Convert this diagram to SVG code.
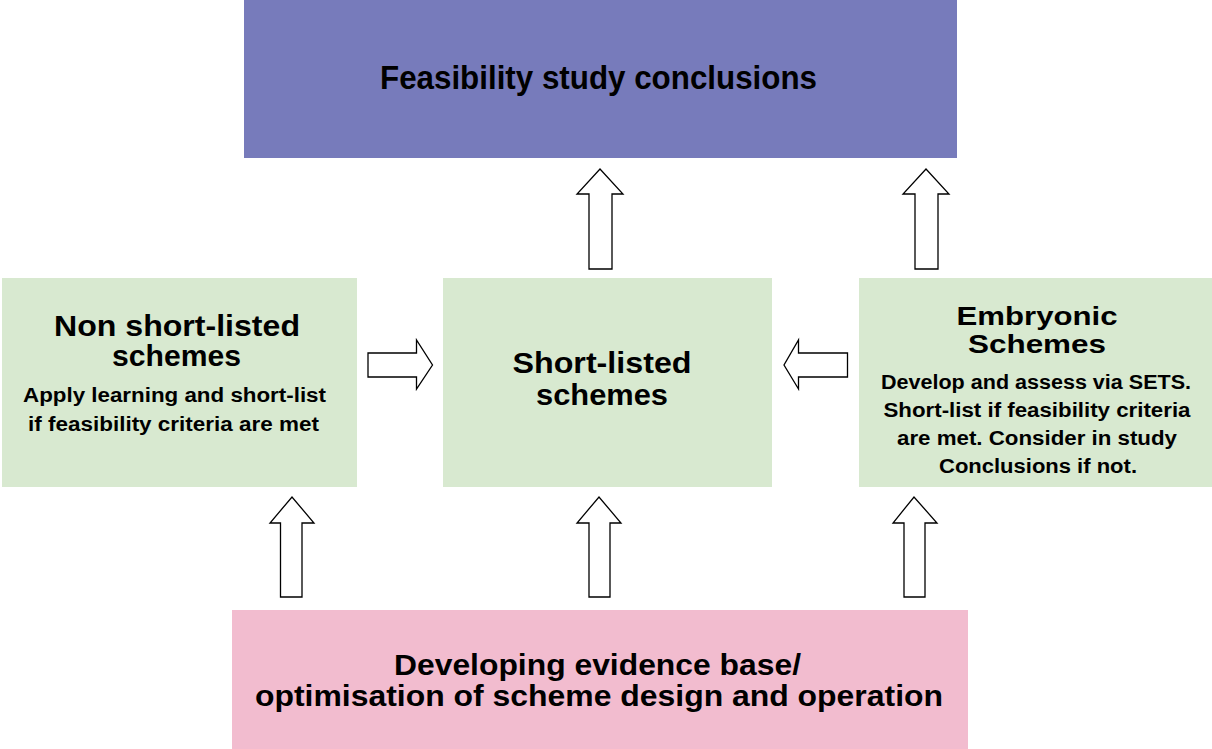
<svg xmlns="http://www.w3.org/2000/svg" width="1212" height="749" viewBox="0 0 1212 749">
<style>
.t{font-family:"Liberation Sans",Arial,sans-serif;font-weight:bold;fill:#000;text-anchor:middle}
.h{font-size:30px}
.s{font-size:19.5px}
.arr{fill:#fff;stroke:#000;stroke-width:1.3;stroke-linejoin:miter}
</style>
<rect width="1212" height="749" fill="#fff"/>
<g id="conclusions">
<rect x="244" y="0" width="713" height="158" fill="#777BBB"/>
<text class="t" x="598.5" y="89" font-size="33" textLength="437" lengthAdjust="spacingAndGlyphs">Feasibility study conclusions</text>
</g>
<g id="non-short-listed">
<rect x="2" y="278" width="355" height="209" fill="#D8E9D0"/>
<text class="t h" x="177" y="336" textLength="246" lengthAdjust="spacingAndGlyphs">Non short-listed</text>
<text class="t h" x="176.5" y="366" textLength="129" lengthAdjust="spacingAndGlyphs">schemes</text>
<text class="t s" x="174.5" y="402" textLength="303" lengthAdjust="spacingAndGlyphs">Apply learning and short-list</text>
<text class="t s" x="173.5" y="431" textLength="291" lengthAdjust="spacingAndGlyphs">if feasibility criteria are met</text>
</g>
<g id="short-listed">
<rect x="443" y="278" width="329" height="209" fill="#D8E9D0"/>
<text class="t h" x="602" y="373" textLength="179" lengthAdjust="spacingAndGlyphs">Short-listed</text>
<text class="t h" x="602" y="405" textLength="132" lengthAdjust="spacingAndGlyphs">schemes</text>
</g>
<g id="embryonic">
<rect x="859" y="278" width="353" height="209" fill="#D8E9D0"/>
<text class="t" x="1037" y="324.5" font-size="26" textLength="161" lengthAdjust="spacingAndGlyphs">Embryonic</text>
<text class="t" x="1037" y="353" font-size="26" textLength="138" lengthAdjust="spacingAndGlyphs">Schemes</text>
<text class="t s" x="1036" y="389" textLength="310" lengthAdjust="spacingAndGlyphs">Develop and assess via SETS.</text>
<text class="t s" x="1037" y="417" textLength="307" lengthAdjust="spacingAndGlyphs">Short-list if feasibility criteria</text>
<text class="t s" x="1037" y="445" textLength="280" lengthAdjust="spacingAndGlyphs">are met. Consider in study</text>
<text class="t s" x="1038" y="473" textLength="198" lengthAdjust="spacingAndGlyphs">Conclusions if not.</text>
</g>
<g id="evidence">
<rect x="232" y="610" width="736" height="139" fill="#F2BCCF"/>
<text class="t" x="597.5" y="675" font-size="29" textLength="407" lengthAdjust="spacingAndGlyphs">Developing evidence base/</text>
<text class="t" x="599" y="706" font-size="29" textLength="688" lengthAdjust="spacingAndGlyphs">optimisation of scheme design and operation</text>
</g>
<g id="connectors">
<polygon class="arr" points="589,269 612,269 612,194 623,194 600,169 577,194 589,194"/>
<polygon class="arr" points="915,269 938,269 938,194 949,194 926,169 903,194 915,194"/>
<polygon class="arr" points="368,353 416.5,353 416.5,340 432.5,365 416.5,389 416.5,377 368,377"/>
<polygon class="arr" points="847.5,353 798.5,353 798.5,340 784,365 798.5,389 798.5,377 847.5,377"/>
<polygon class="arr" points="280.5,597 302,597 302,523 314,523 292,497 270,523 280.5,523"/>
<polygon class="arr" points="589,597 610,597 610,523 621,523 599,497 577,523 589,523"/>
<polygon class="arr" points="904,597 925,597 925,523 937,523 914,497 893,523 904,523"/>
</g>
</svg>
